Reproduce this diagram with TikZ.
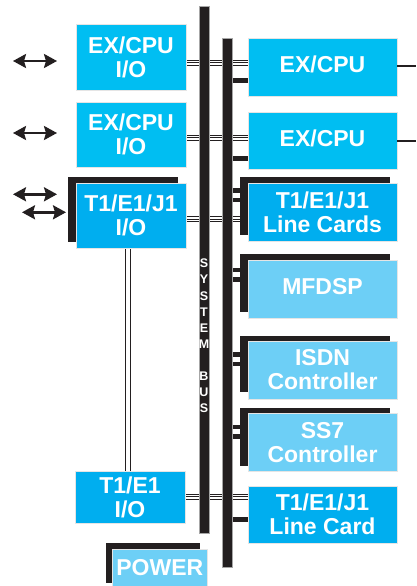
\documentclass[tikz,border=0pt]{standalone}
\usepackage{fontspec}
\setmainfont{Liberation Sans}
\usetikzlibrary{arrows.meta,backgrounds}
\definecolor{exc}{RGB}{0,190,242}
\definecolor{tbl}{RGB}{0,174,239}
\definecolor{lbl}{RGB}{109,207,246}
\definecolor{drk}{RGB}{35,31,32}
\begin{document}
\begin{tikzpicture}[x=1pt,y=-1pt,
  box/.style={rectangle, inner sep=0pt, text=white, draw=white!80!gray, line width=0.4pt,
    font=\fontsize{23}{24}\selectfont\bfseries, align=center},
  rbox/.style={box, minimum width=149pt, minimum height=58pt},
  lbox/.style={box, minimum width=110pt},
  shd/.style={rectangle, inner sep=0pt, fill=drk},
  bar/.style={rectangle, inner sep=0pt, fill=drk, draw=gray!70, line width=0.5pt},
  triple/.style={draw=white, line width=4pt, preaction={draw=drk, line width=6pt}, postaction={draw=drk, line width=1pt}},
  dbl/.style={draw=drk, line width=1pt, double=white, double distance=3.3pt},
  stub/.style={draw=drk, line width=5pt},
  dstub/.style={draw=drk, line width=4.5pt, double=white, double distance=5pt},
  outl/.style={draw=drk, line width=2pt},
  biarrow/.style={draw=drk, fill=drk, line width=2.4pt,
    {Stealth[length=13pt 0, width=14pt 0, inset=2pt]}-{Stealth[length=13pt 0, width=14pt 0, inset=2pt]}}]
\useasboundingbox (0,0) rectangle (416,586);

% bars
\node[bar, minimum width=10pt, minimum height=527pt] (bus1) at (204,269.5) {};
\node[bar, minimum width=10pt, minimum height=529pt] (bus2) at (227,302.5) {};

% left boxes
\node[shd, minimum width=110pt, minimum height=65pt] (l3s) at (123,209.5) {};
\node[lbox, fill=exc, minimum height=66pt] (l1) at (131,57) {EX/CPU\\I/O};
\node[lbox, fill=exc, minimum height=65pt] (l2) at (131,134.5) {EX/CPU\\I/O};
\node[lbox, fill=tbl, minimum height=65pt] (l3) at (131,215.5) {T1/E1/J1\\I/O};
\node[lbox, fill=tbl, minimum height=52pt] (l4) at (130,497) {T1/E1\\I/O};
\node[shd, minimum width=94pt, minimum height=40pt] (ps) at (153,563) {};
\node[box, fill=lbl, minimum width=94.5pt, minimum height=37pt] (pw) at (159.75,567.5) {POWER};

% right boxes
\node[shd, minimum width=150pt, minimum height=58pt] (r3s) at (315,206) {};
\node[shd, minimum width=150pt, minimum height=58pt] (r4s) at (315,283) {};
\node[shd, minimum width=150pt, minimum height=56pt] (r5s) at (315,364) {};
\node[shd, minimum width=150pt, minimum height=58pt] (r6s) at (315,437) {};
\node[rbox, fill=exc, text depth=5pt] (r1) at (322.5,67) {EX/CPU};
\node[rbox, fill=exc, minimum height=57pt, text depth=5pt] (r2) at (322.5,140.5) {EX/CPU};
\node[rbox, fill=tbl] (r3) at (322.5,212) {T1/E1/J1\\Line Cards};
\node[rbox, fill=lbl, text depth=5pt] (r4) at (322.5,289) {MFDSP};
\node[rbox, fill=lbl] (r5) at (322.5,370) {ISDN\\Controller};
\node[rbox, fill=lbl] (r6) at (322.5,442.5) {SS7\\Controller};
\node[rbox, fill=tbl, minimum height=57.5pt] (r7) at (322.5,514.5) {T1/E1/J1\\Line Card};

% bus letters
\node[inner sep=0pt, text=white, align=center, font=\fontsize{12.5}{16.1}\selectfont\bfseries] (bustxt) at (204,336) {S\\Y\\S\\T\\E\\M\\[0pt] \\B\\U\\S};

% levels
\coordinate (h1) at (0,63);
\coordinate (h2) at (0,137.5);
\coordinate (h3) at (0,219);
\coordinate (h4) at (0,496.7);
\coordinate (k1) at (0,80.5);
\coordinate (k2) at (0,158);
\coordinate (k3) at (0,195);
\coordinate (k4) at (0,274.5);
\coordinate (k5) at (0,359);
\coordinate (k6) at (0,431.5);
\coordinate (k7) at (0,519);
\coordinate (o1) at (416,66);
\coordinate (o2) at (416,140.5);
\coordinate (v) at (128,0);
\coordinate (a1l) at (13,61);  \coordinate (a1r) at (57,61);
\coordinate (a2l) at (13,133); \coordinate (a2r) at (57,133);
\coordinate (a3l) at (13,194.3); \coordinate (a3r) at (57,194.3);
\coordinate (a4l) at (22,212.3); \coordinate (a4r) at (66,212.3);

\begin{scope}[on background layer]
  \draw[triple] (l1.east |- h1) -- (r1.west |- h1);
  \draw[triple] (l2.east |- h2) -- (r2.west |- h2);
  \draw[triple] (l3.east |- h3) -- (r3.west |- h3);
  \draw[triple] (l4.east |- h4) -- (r7.west |- h4);
  \draw[stub] (bus2.east |- k1) -- (r1.west |- k1);
  \draw[stub] (bus2.east |- k2) -- (r2.west |- k2);
  \draw[dstub] (bus2.east |- k3) -- (r3s.west |- k3);
  \draw[dstub] (bus2.east |- k4) -- (r4s.west |- k4);
  \draw[dstub] (bus2.east |- k5) -- (r5s.west |- k5);
  \draw[dstub] (bus2.east |- k6) -- (r6s.west |- k6);
  \draw[stub] (bus2.east |- k7) -- (r7.west |- k7);
  \draw[dbl] (l3.south -| v) -- (l4.north -| v);
\end{scope}
\draw[outl] (r1.east |- o1) -- (o1);
\draw[outl] (r2.east |- o2) -- (o2);
\draw[biarrow] (a1l) -- (a1r);
\draw[biarrow] (a2l) -- (a2r);
\draw[biarrow] (a3l) -- (a3r);
\draw[biarrow] (a4l) -- (a4r);
\end{tikzpicture}
\end{document}
